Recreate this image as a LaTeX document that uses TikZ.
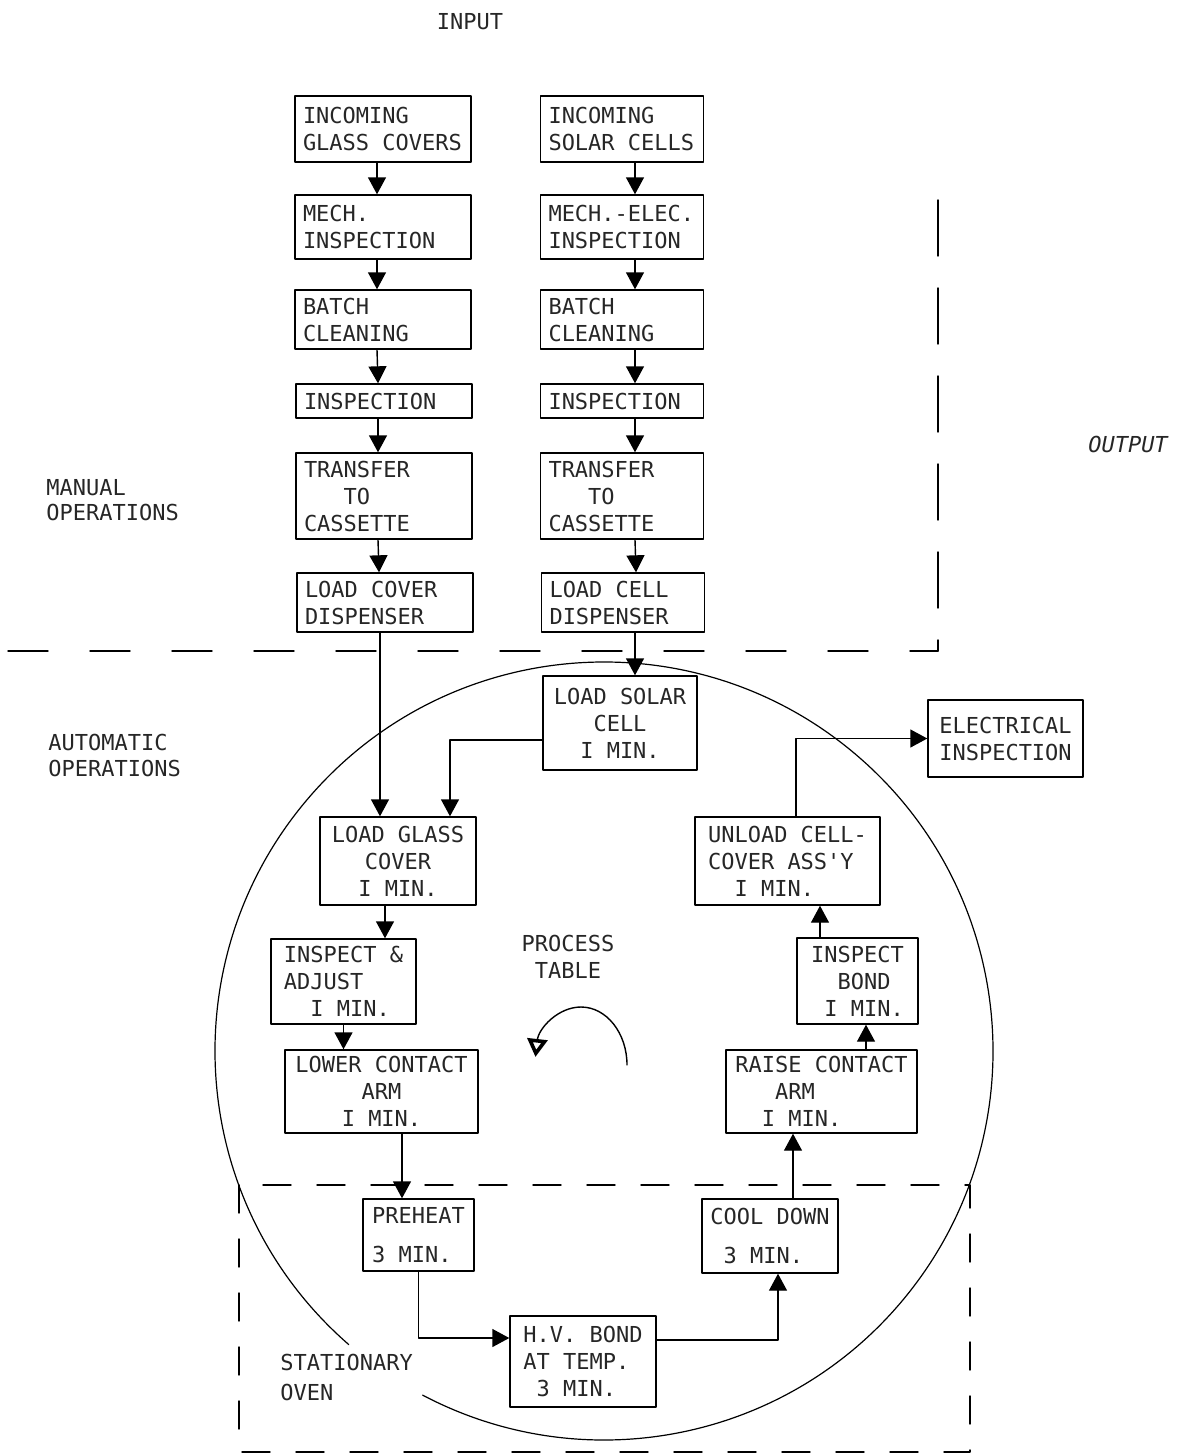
\documentclass[tikz,border=0pt]{standalone}
\usepackage{fontspec}
\newfontfamily\typer{DejaVu Sans Mono}
\usetikzlibrary{arrows.meta,calc}

\tikzset{
  box/.style={draw, line width=0.7pt, inner sep=0pt, text=black!85,
    font=\typer\fontsize{11}{13.5}\selectfont},
  manbox/.style={box, inner xsep=4pt, text width=80pt, align=flush left},
  cellbox/.style={box, inner xsep=4pt, text width=73.5pt, align=flush left},
  lbl/.style={inner sep=0pt, text=black!85, font=\typer\fontsize{11}{13}\selectfont},
  flow/.style={line width=0.7pt, -{Triangle[width=9pt,length=8.5pt]}},
  divider/.style={line width=0.7pt, dash pattern=on 20pt off 21pt},
  ovenline/.style={line width=0.7pt, dash pattern=on 14pt off 13pt},
  table/.style={line width=0.6pt}
}

\begin{document}
\begin{tikzpicture}[
  x=0.5pt, y=-0.5pt,
  line cap=round,
  line join=round
]
  \useasboundingbox (0,0) rectangle (1178,1456);

  % Process table and oven
  \coordinate (c) at (604,1051);
  \draw[table] ($(c)+(131:389)$) arc[start angle=131, end angle=477.8, radius=389];
  \draw[ovenline] (239,1185) rectangle (970,1452);

  % Boundary manual / automatic
  \draw[divider] (8,651) -- (938,651);
  \draw[divider, dash pattern=on 28pt off 16pt] (938,200) -- (938,651);

  % Labels
  \node[lbl] (input) at (470,22) {INPUT};
  \node[lbl, anchor=west, align=left, font=\typer\fontsize{11}{12.5}\selectfont] (manual) at (46,500) {MANUAL\\OPERATIONS};
  \node[lbl, anchor=west, align=left] (auto) at (48,755) {AUTOMATIC\\OPERATIONS};
  \node[lbl, font=\typer\itshape\fontsize{11}{13}\selectfont] (output) at (1128,444) {OUTPUT};
  \node[lbl, align=center, font=\typer\fontsize{11}{13.5}\selectfont] (ptable) at (568,957) {PROCESS\\TABLE};
  \node[lbl, anchor=west, align=left, font=\typer\fontsize{11}{15}\selectfont] (oven) at (280,1377) {STATIONARY\\OVEN};

  % Glass covers
  \node[manbox, minimum height=33pt] (gc1) at (383,129) {INCOMING\\GLASS COVERS};
  \node[manbox, minimum height=32pt] (gc2) at (383,227) {MECH.\\INSPECTION};
  \node[manbox, minimum height=29.5pt] (gc3) at (383,319.5) {BATCH\\CLEANING};
  \node[manbox, minimum height=17pt] (gc4) at (384,401) {INSPECTION};
  \node[manbox, minimum height=43pt] (gc5) at (384,496) {TRANSFER\\\phantom{XXX}TO\\CASSETTE};
  \node[manbox, minimum height=29.5pt] (gc6) at (385,602.5) {LOAD COVER\\DISPENSER};

  % Solar cells
  \node[cellbox, minimum height=33pt] (sc1) at (622,129) {INCOMING\\SOLAR CELLS};
  \node[cellbox, minimum height=32pt] (sc2) at (622,227) {MECH.-ELEC.\\INSPECTION};
  \node[cellbox, minimum height=29.5pt] (sc3) at (622,319.5) {BATCH\\CLEANING};
  \node[cellbox, minimum height=17pt] (sc4) at (622,401) {INSPECTION};
  \node[cellbox, minimum height=43pt] (sc5) at (622,496) {TRANSFER\\\phantom{XXX}TO\\CASSETTE};
  \node[cellbox, minimum height=29.5pt] (sc6) at (623,602.5) {LOAD CELL\\DISPENSER};

  % Automatic stations
  \node[box, minimum width=77pt, minimum height=47pt, align=center] (ls) at (620,723) {LOAD SOLAR\\CELL\\I MIN.};
  \node[box, minimum width=78pt, minimum height=44pt, align=center] (lg) at (398,861) {LOAD GLASS\\COVER\\I MIN.};
  \node[box, minimum width=72.5pt, minimum height=42.5pt, align=left] (ia) at (343.5,981.5) {INSPECT \&\\ADJUST\\\phantom{XX}I MIN.};
  \node[box, minimum width=96.5pt, minimum height=41.5pt, align=center] (lc) at (381.5,1091.5) {LOWER CONTACT\\ARM\\I MIN.};
  \node[box, minimum width=55.5pt, minimum height=36pt, align=left] (ph) at (418.5,1235) {PREHEAT\\[6pt]3 MIN.};
  \node[box, minimum width=73pt, minimum height=45.5pt, align=left] (hv) at (583,1361.5) {H.V. BOND\\AT TEMP.\\\phantom{X}3 MIN.};
  \node[box, minimum width=68pt, minimum height=37pt, align=left] (cd) at (770,1236) {COOL DOWN\\[6pt]\phantom{X}3 MIN.};
  \node[box, minimum width=95.5pt, minimum height=41.5pt, align=left] (rc) at (821.5,1091.5) {RAISE CONTACT\\\phantom{XXX}ARM\\\phantom{XX}I MIN.};
  \node[box, minimum width=60.5pt, minimum height=43pt, align=left] (ib) at (857.5,981) {INSPECT\\\phantom{XX}BOND\\\phantom{X}I MIN.};
  \node[box, minimum width=92.5pt, minimum height=44pt, align=left] (uc) at (787.5,861) {UNLOAD CELL-\\COVER ASS'Y\\\phantom{XX}I MIN.};
  \node[box, minimum width=77.5pt, minimum height=38.5pt, align=center] (ei) at (1005.5,738.5) {ELECTRICAL\\INSPECTION};

  % Manual flow
  \foreach \a/\b in {gc1/gc2,gc2/gc3,gc3/gc4,gc4/gc5,gc5/gc6}
    \draw[flow] ($(\a.south)+(-6,0)$) -- ($(\b.north)+(-6,0)$);
  \foreach \a/\b in {sc1/sc2,sc2/sc3,sc3/sc4,sc4/sc5,sc5/sc6}
    \draw[flow] ($(\a.south)+(13,0)$) -- ($(\b.north)+(13,0)$);

  % Feed to the table
  \coordinate (t) at ($(sc6.south)+(12,0)$);
  \draw[flow] (t) -- (t |- ls.north);
  \coordinate (g) at ($(gc6.south)+(-5,0)$);
  \draw[flow] (g) -- (g |- lg.north);
  \draw[flow] ($(ls.west)+(0,17)$) -| ($(lg.north)+(52,0)$);

  % Around the table
  \coordinate (u) at ($(lg.south)+(-13,0)$);
  \draw[flow] (u) -- (u |- ia.north);
  \draw[flow] (ia.south) -- (ia.south |- lc.north);
  \coordinate (v) at ($(ph.north)+(-16.5,0)$);
  \draw[flow] (v |- lc.south) -- (v);
  \draw[flow] (ph.south) |- ($(hv.west)+(0,-23.5)$);
  \draw[flow] ($(hv.east)+(0,-21.5)$) -| ($(cd.south)+(8,0)$);
  \coordinate (q) at ($(cd.north)+(23,0)$);
  \draw[flow] (q) -- (q |- rc.south);
  \coordinate (r) at ($(ib.south)+(8.5,0)$);
  \draw[flow] (r |- rc.north) -- (r);
  \coordinate (s) at ($(uc.south)+(32.5,0)$);
  \draw[flow] (s |- ib.north) -- (s);
  \draw[flow] ($(uc.north)+(8.5,0)$) |- (ei.west);

  % Rotation
  \draw[line width=0.7pt, -{Triangle[open,width=10pt,length=9pt,line width=1.8pt]}]
    (627,1065) arc[start angle=0, end angle=-172, x radius=46, y radius=58];
\end{tikzpicture}
\end{document}
